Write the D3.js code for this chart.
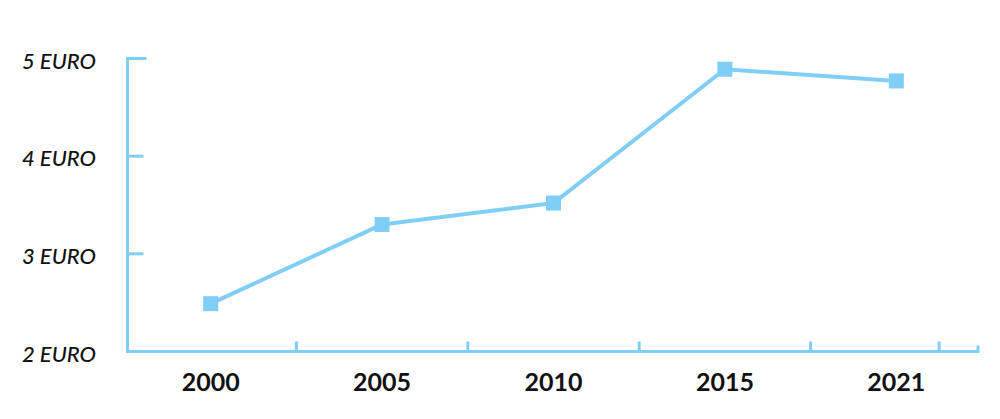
<!DOCTYPE html>
<meta charset='utf-8'>
<script src='https://d3js.org/d3.v7.min.js'></script>
<style>
  body { margin: 0; background: #fff; }
  text { font-family: Lato, 'Open Sans', sans-serif; fill: #111; }
</style>
<body>
<script>
var years = ['2000', '2005', '2010', '2015', '2021'];
var prices = [2.49, 3.30, 3.52, 4.89, 4.77];
var yTicks = [2, 3, 4, 5];
var yTickLabels = ['2 EURO', '3 EURO', '4 EURO', '5 EURO'];
// extra x tick, in band steps from the start of the axis
var extraXTicks = [4.75];

var width = 1000,
    height = 419;

var blue = '#80cef5';

var svg = d3.select('body').append('svg').attr('width', width).attr('height', height);

var x = d3.scaleBand().domain(years).range([125, 982]).paddingInner(0).paddingOuter(0);
var y = d3.scaleLinear().domain([2, 5]).range([351.5, 58.5]);

var axisLeft = 127.5,
    axisRight = 978,
    axisBottom = y(2);

var axes = svg.append('g').attr('stroke', blue).attr('stroke-width', 3).attr('fill', 'none');

// axis lines
axes.append('path')
    .attr('d', 'M' + axisLeft + ',' + (y(5) - 1.5) + 'V' + axisBottom + 'H' + axisRight + 'V' + (axisBottom - 6));

// y ticks
axes.selectAll('.ytick').data(yTicks.slice(1)).enter().append('line')
    .attr('x1', axisLeft).attr('x2', function(d) { return axisLeft + (d === 5 ? 19 : 16); })
    .attr('y1', function(d) { return y(d); }).attr('y2', function(d) { return y(d); });

// x ticks at band boundaries
var xTickPos = years.slice(0, years.length - 1).map(function(d) { return x(d) + x.step(); })
    .concat(extraXTicks.map(function(f) { return x.range()[0] + f * x.step(); }));
axes.selectAll('.xtick').data(xTickPos).enter().append('line')
    .attr('x1', function(d) { return d; }).attr('x2', function(d) { return d; })
    .attr('y1', axisBottom).attr('y2', axisBottom - 10);

// y labels
svg.selectAll('.ylabel').data(yTicks).enter().append('text')
    .attr('x', 22).attr('y', function(d) { return y(d) + 10; })
    .attr('font-size', 22).attr('font-style', 'italic').attr('font-weight', 500)
    .text(function(d, i) { return yTickLabels[i]; });

// x labels
svg.selectAll('.xlabel').data(years).enter().append('text')
    .attr('x', function(d) { return x(d) + x.bandwidth() / 2; })
    .attr('y', axisBottom + 39)
    .attr('text-anchor', 'middle').attr('font-size', 25).attr('font-weight', 'bold')
    .text(function(d) { return d; });

// line
var line = d3.line()
    .x(function(d, i) { return x(years[i]) + x.bandwidth() / 2; })
    .y(function(d) { return y(d); });

svg.append('path').datum(prices)
    .attr('d', line)
    .attr('fill', 'none').attr('stroke', blue).attr('stroke-width', 4);

// markers
var s = 15;
svg.selectAll('.marker').data(prices).enter().append('rect')
    .attr('x', function(d, i) { return x(years[i]) + x.bandwidth() / 2 - s / 2; })
    .attr('y', function(d) { return y(d) - s / 2; })
    .attr('width', s).attr('height', s)
    .attr('fill', blue);
</script>
</body>
